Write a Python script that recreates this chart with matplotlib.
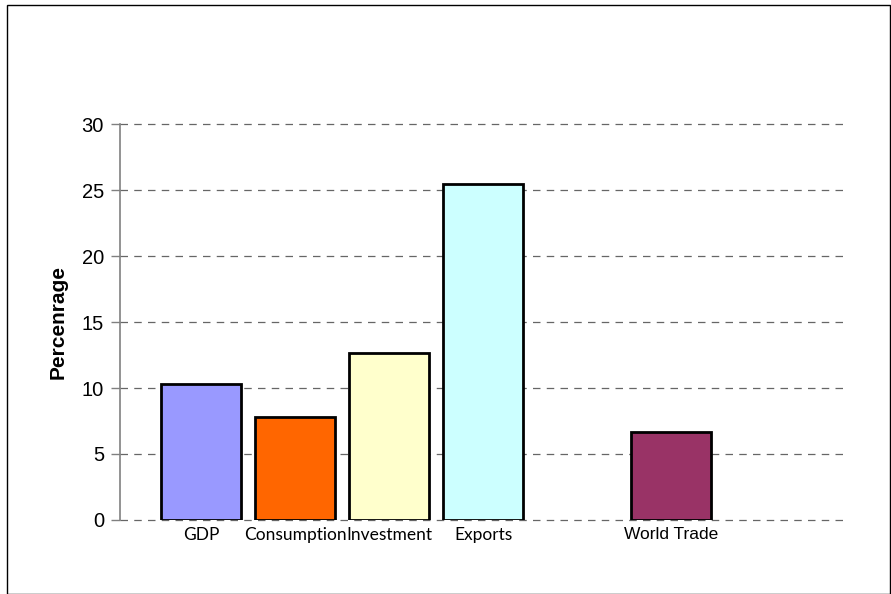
import matplotlib.pyplot as plt
from matplotlib.patches import Rectangle

categories = ['GDP', 'Consumption', 'Investment', 'Exports', 'World Trade']
positions = [0, 1, 2, 3, 5]
values = [10.3, 7.8, 12.65, 25.45, 6.67]
bar_colors = ['#9999FF', '#FF6600', '#FFFFCC', '#CCFFFF', '#993366']
yticks = [0, 5, 10, 15, 20, 25, 30]

fig = plt.figure(figsize=(8.91, 5.94), dpi=100)
ax = fig.add_axes([0.1347, 0.1246, 0.8170, 0.6666])

# outer frame around the chart
fig.patches.append(Rectangle((7 / 891, 0.0), 883 / 891, 589 / 594, transform=fig.transFigure,
                             fill=False, edgecolor='black', linewidth=1.0))

ax.bar(positions, values, width=0.85, color=bar_colors, edgecolor='black', linewidth=2, zorder=3)

ax.set_ylim(0, 30)
ax.set_xlim(-0.86, 6.88)
ax.set_yticks(yticks)
ax.set_yticklabels([str(v) for v in yticks], fontsize=14.5, family='Liberation Sans')
ax.yaxis.grid(True, linestyle=(0, (6, 5)), color='#666666', linewidth=0.9, zorder=0)
for gl in ax.get_ygridlines():
    gl.set_clip_on(False)
ax.set_axisbelow(True)

ax.set_xticks(positions)
ax.set_xticklabels(categories, fontsize=12.5, family='Lato')
ax.get_xticklabels()[-1].set_family('Liberation Sans')
ax.get_xticklabels()[-1].set_fontsize(12.5)
ax.tick_params(axis='x', length=0, pad=5)
ax.tick_params(axis='y', direction='out', length=6.5, width=1, color='#808080', pad=5)

for s in ['top', 'right', 'bottom']:
    ax.spines[s].set_visible(False)
ax.spines['left'].set_color('#808080')
ax.spines['left'].set_linewidth(1.2)

ax.set_ylabel('Percenrage', fontsize=15, fontweight='bold', family='Liberation Sans', labelpad=10)

fig.savefig('out.png', dpi=100)
